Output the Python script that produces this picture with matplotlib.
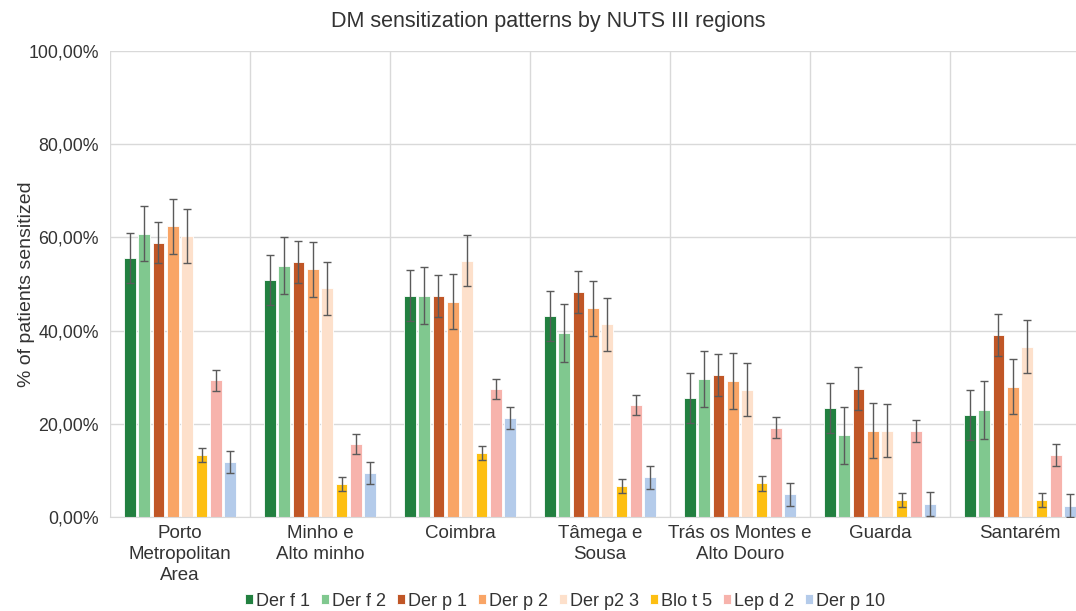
import matplotlib
matplotlib.use("Agg")
import matplotlib.pyplot as plt
import numpy as np
from matplotlib.ticker import FuncFormatter, FixedLocator

plt.rcParams['font.family'] = ['Liberation Sans', 'DejaVu Sans']

regions = ["Porto\nMetropolitan\nArea", "Minho e\nAlto minho", "Coimbra", "Tâmega e\nSousa",
           "Trás os Montes e\nAlto Douro", "Guarda", "Santarém"]
series = ["Der f 1", "Der f 2", "Der p 1", "Der p 2", "Der p2 3", "Blo t 5", "Lep d 2", "Der p 10"]
colors = ["#228040", "#80c88f", "#c05626", "#f9a566", "#fde0cb", "#fdbf12", "#f7b3ac", "#b4cbea"]

der_f1 = [55.6, 50.8, 47.5, 43.1, 25.5, 23.4, 21.9]
der_f2 = [60.8, 53.9, 47.5, 39.5, 29.6, 17.5, 23.0]
der_p1 = [58.9, 54.8, 47.5, 48.2, 30.4, 27.5, 39.0]
der_p2 = [62.4, 53.2, 46.2, 44.8, 29.1, 18.5, 28.0]
der_p23 = [60.3, 49.1, 55.0, 41.4, 27.3, 18.5, 36.5]
blo_t5 = [13.3, 7.1, 13.7, 6.7, 7.2, 3.7, 3.6]
lep_d2 = [29.3, 15.7, 27.5, 24.0, 19.2, 18.5, 13.3]
der_p10 = [11.8, 9.4, 21.2, 8.5, 4.9, 2.8, 2.4]

err_f1 = [5.4, 5.4, 5.4, 5.4, 5.4, 5.4, 5.3]
err_f2 = [5.9, 6.1, 6.1, 6.2, 6.1, 6.1, 6.2]
err_p1 = [4.5, 4.5, 4.5, 4.5, 4.5, 4.6, 4.5]
err_p2 = [5.9, 5.9, 5.9, 5.9, 6.0, 5.9, 5.9]
err_p23 = [5.7, 5.7, 5.5, 5.7, 5.7, 5.7, 5.7]
err_blo = [1.6, 1.5, 1.5, 1.5, 1.6, 1.5, 1.5]
err_lep = [2.2, 2.2, 2.2, 2.2, 2.3, 2.3, 2.3]
err_p10 = [2.4, 2.4, 2.4, 2.5, 2.5, 2.5, 2.5]

values = [der_f1, der_f2, der_p1, der_p2, der_p23, blo_t5, lep_d2, der_p10]
errors = [err_f1, err_f2, err_p1, err_p2, err_p23, err_blo, err_lep, err_p10]

fig = plt.figure(figsize=(10.76, 6.11), dpi=100)
ax = fig.add_axes([110/1076, (611-517)/611, 980/1076, 466/611])

x = np.arange(len(regions))
slot = 0.1027
bw = 0.084
for i, (name, vals, errs, c) in enumerate(zip(series, values, errors, colors)):
    pos = x + (i - 3.5) * slot
    ax.bar(pos, vals, width=bw, color=c, edgecolor='white', linewidth=0.6, label=name, zorder=2)
    ax.errorbar(pos, vals, yerr=errs, fmt='none', ecolor='#5a5a5a', elinewidth=1.0,
                capsize=3, capthick=1.0, zorder=3)

ax.set_xlim(-0.5, len(regions) - 0.5)
ax.set_ylim(0, 100)
ax.yaxis.set_major_locator(FixedLocator([0, 20, 40, 60, 80, 100]))
ax.yaxis.set_major_formatter(FuncFormatter(lambda v, p: f"{v:.2f}%".replace('.', ',')))
ax.set_xticks(x)
ax.set_xticklabels(regions, fontsize=13.5, color='#333333', linespacing=1.3)
ax.set_xticks(np.arange(-0.5, len(regions) + 0.5, 1), minor=True)
ax.tick_params(axis='x', which='major', length=0, pad=6)
ax.tick_params(axis='x', which='minor', length=0)
ax.tick_params(axis='y', length=0, labelsize=12.8, labelcolor='#333333', pad=8)
ax.grid(axis='y', which='major', color='#d9d9d9', linewidth=1, zorder=0)
ax.grid(axis='x', which='minor', color='#d9d9d9', linewidth=1, zorder=0)
ax.set_axisbelow(True)
for s in ['top', 'right', 'left']:
    ax.spines[s].set_visible(False)
ax.spines['bottom'].set_color('#d9d9d9')

ax.set_ylabel("% of patients sensitized", fontsize=14, color='#333333', labelpad=0)
ax.yaxis.set_label_coords(-(110 - 35) / 980, 0.5)
fig.text(548/1076, 1 - 22/611, "DM sensitization patterns by NUTS III regions",
         ha='center', va='center', fontsize=15.5, color='#333333')

handles, labels = ax.get_legend_handles_labels()
leg = fig.legend(handles, labels, loc='center', bbox_to_anchor=(565/1076, 1 - 601/611), ncol=8,
                 frameon=False, fontsize=13, handlelength=0.45, handleheight=0.45,
                 handletextpad=0.15, columnspacing=0.62)
for t in leg.get_texts():
    t.set_color('#333333')

fig.savefig("out.png", dpi=100)
